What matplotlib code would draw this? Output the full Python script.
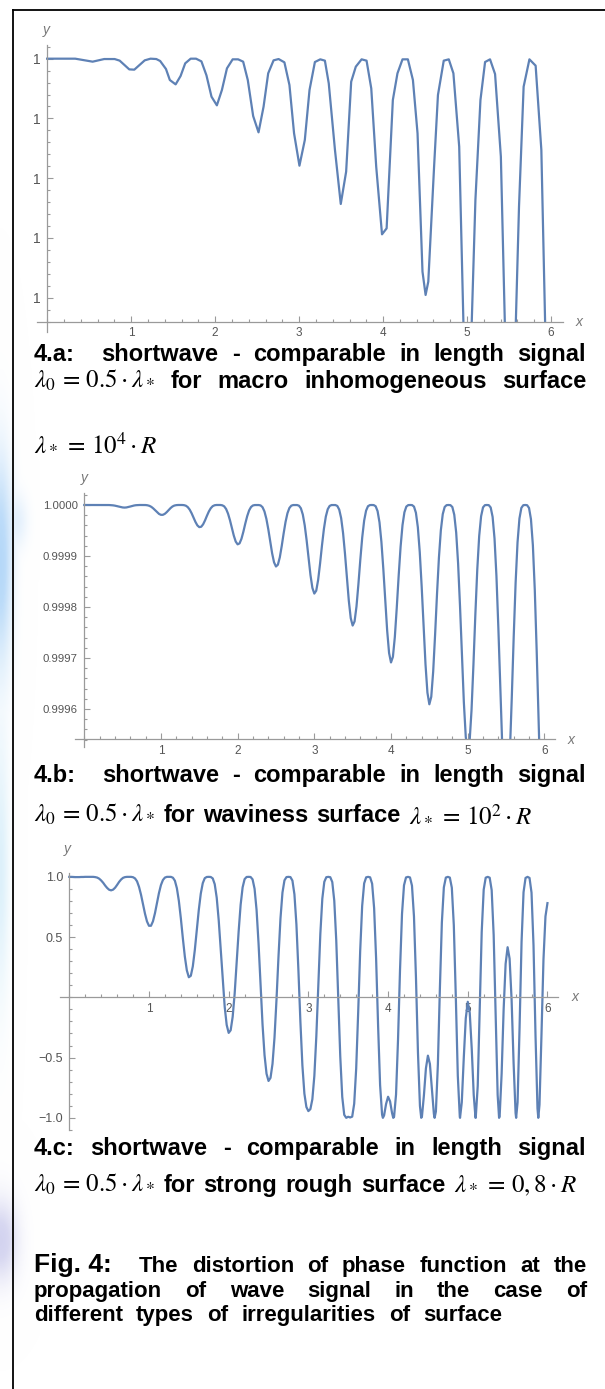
import numpy as np
import matplotlib.pyplot as plt
from matplotlib.lines import Line2D
from matplotlib.patches import Rectangle
from matplotlib.ticker import MultipleLocator

plt.rcParams['font.family'] = ['Liberation Sans', 'DejaVu Sans']
plt.rcParams['mathtext.fontset'] = 'stix'

W, H = 605, 1389
LINE = '#5e81b5'
AXC = '#9a9a9a'
LBL = '#555555'

# ---- panel a: jagged samples, deviation below 1 in tick units ----
xa = [0.000, 0.335, 0.542, 0.680, 0.804, 0.864, 0.978, 1.038, 1.162, 1.231,
      1.300, 1.346, 1.415, 1.461, 1.530, 1.589, 1.644, 1.709, 1.773, 1.837,
      1.897, 1.957, 2.021, 2.081, 2.141, 2.209, 2.274, 2.334, 2.389, 2.453,
      2.517, 2.577, 2.632, 2.696, 2.756, 2.825, 2.885, 2.940, 3.004, 3.068,
      3.124, 3.188, 3.252, 3.307, 3.353, 3.427, 3.496, 3.560, 3.620, 3.675,
      3.744, 3.803, 3.859, 3.918, 3.987, 4.042, 4.116, 4.171, 4.231, 4.295,
      4.355, 4.410, 4.469, 4.506, 4.538, 4.607, 4.653, 4.722, 4.782, 4.837,
      4.906, 5.000, 5.099, 5.159, 5.214, 5.273, 5.333, 5.402, 5.510, 5.618,
      5.673, 5.742, 5.816, 5.884, 6.000]
dev_a = [0, 0, 0.050, 0.006, 0.006, 0.033, 0.179, 0.184, 0.028, 0,
         0.006, 0.039, 0.173, 0.357, 0.430, 0.290, 0.078, 0, 0, 0.045,
         0.279, 0.636, 0.781, 0.524, 0.162, 0.011, 0.011, 0.050, 0.357, 0.960,
         1.233, 0.803, 0.245, 0.028, 0.006, 0.061, 0.441, 1.250, 1.791, 1.361,
         0.524, 0.056, 0.011, 0.033, 0.413, 1.529, 2.432, 1.891, 0.385, 0.134,
         0.011, 0.033, 0.497, 1.808, 2.940, 2.840, 0.692, 0.245, 0.011, 0.011,
         0.357, 1.250, 3.565, 3.955, 3.732, 1.808, 0.608, 0.033, 0.011, 0.245,
         1.473, 7.0, 2.365, 0.692, 0.056, 0.011, 0.257, 1.640, 8.0, 2.477,
         0.469, 0.011, 0.117, 1.529, 9.0]

# ---- panel b: 1 - y, in units of 1e-6, x = 0 .. 6 step 0.025 ----
dev_b = [0.0] * 11 + [
    0.0, 0.0, 0.1, 0.3, 0.7, 1.3, 2.2, 3.2, 4.1, 4.8, 5.1, 4.8, 4.0, 3.0, 1.9, 1.0, 0.4, 0.1, 0.0, 0.0,
    0.0, 0.1, 0.6, 1.7, 3.7, 6.7, 10.4, 14.2, 17.5, 19.3, 19.3, 17.4, 14.1, 10.0, 6.1, 3.0, 1.1, 0.3, 0.0, 0.0,
    0.0, 0.3, 1.4, 4.2, 9.1, 16.2, 24.7, 33.2, 40.0, 43.4, 42.7, 37.9, 30.2, 21.1, 12.7, 6.3, 2.3, 0.5, 0.0, 0.0,
    0.0, 0.6, 2.7, 7.9, 17.0, 29.8, 45.1, 60.0, 71.7, 77.2, 75.3, 66.3, 52.4, 36.4, 21.8, 10.6, 3.9, 0.9, 0.1, 0.0,
    0.1, 0.9, 4.4, 12.7, 27.2, 47.6, 71.5, 94.8, 112.5, 120.6, 117.1, 102.7, 80.6, 55.8, 33.2, 16.1, 5.9, 1.3, 0.1, 0.0,
    0.1, 1.4, 6.5, 18.7, 39.9, 69.5, 104.0, 137.4, 162.6, 173.7, 168.1, 146.9, 115.0, 79.4, 47.1, 22.8, 8.3, 1.8, 0.1, 0.0,
    0.1, 1.9, 9.1, 25.8, 55.0, 95.5, 142.6, 187.9, 221.9, 236.4, 228.3, 199.0, 155.4, 107.1, 63.4, 30.6, 11.1, 2.4, 0.2, 0.0,
    0.2, 2.5, 12.0, 34.0, 72.5, 125.6, 187.3, 246.3, 290.3, 308.8, 297.7, 259.0, 201.9, 138.9, 82.1, 39.6, 14.3, 3.1, 0.2, 0.0,
    0.2, 3.2, 15.3, 43.5, 92.4, 159.9, 238.1, 312.6, 367.9, 390.8, 376.2, 326.8, 254.5, 174.8, 103.2, 49.7, 17.9, 3.9, 0.3, 0.0,
    0.3, 4.0, 19.1, 54.0, 114.7, 198.3, 294.9, 386.8, 454.8, 482.5, 463.9, 402.6, 313.2, 214.9, 126.7, 60.9, 22.0, 4.7, 0.3, 0.0,
    0.3, 4.9, 23.3, 65.7, 139.4, 240.9, 357.9, 468.9, 550.8, 583.8, 560.9, 486.3, 377.9, 259.0, 152.7, 73.3, 26.4, 5.7, 0.4, 0.0,
    0.4, 5.9, 27.8, 78.6, 166.5, 287.5, 426.9, 558.9, 656.0, 694.8]

# ---- panel c: y, x = 0 .. 6 step 0.025, plus the -1 dips ----
yc_grid = [
    1.000, 1.000, 0.999, 0.998, 0.998, 0.998, 0.999, 0.999, 1.000, 1.000, 1.000,
    1.000, 1.000, 0.998, 0.994, 0.985, 0.970, 0.951, 0.928, 0.908, 0.893, 0.888, 0.894, 0.910, 0.933, 0.958, 0.978, 0.992, 0.998, 1.000, 1.000,
    1.000, 0.997, 0.987, 0.963, 0.917, 0.852, 0.773, 0.694, 0.630, 0.594, 0.594, 0.631, 0.698, 0.782, 0.865, 0.932, 0.974, 0.994, 1.000, 1.000,
    1.000, 0.993, 0.968, 0.906, 0.800, 0.655, 0.490, 0.338, 0.224, 0.167, 0.179, 0.257, 0.392, 0.558, 0.725, 0.861, 0.948, 0.989, 0.999, 1.000,
    0.999, 0.987, 0.939, 0.827, 0.640, 0.397, 0.141, -0.078, -0.229, -0.295, -0.273, -0.162, 0.030, 0.282, 0.546, 0.768, 0.913, 0.981, 0.999, 1.000,
    0.999, 0.979, 0.901, 0.725, 0.445, 0.102, -0.227, -0.480, -0.634, -0.694, -0.668, -0.552, -0.334, -0.020, 0.337, 0.655, 0.870, 0.971, 0.998, 1.000,
    0.998, 0.969, 0.855, 0.605, 0.225, -0.203, -0.565, -0.799, -0.910, -0.944, -0.928, -0.846, -0.652, -0.321, 0.110, 0.525, 0.819, 0.959, 0.997, 1.000,
    0.997, 0.957, 0.802, 0.470, -0.007, -0.488, -0.826, -0.975, -1.000, -0.991, -0.997, -0.990, -0.883, -0.591, -0.124, 0.383, 0.759, 0.946, 0.996, 1.000,
    0.996, 0.943, 0.740, 0.321, -0.238, -0.728, -0.974, -0.980, -0.885, -0.825, -0.863, -0.960, -0.993, -0.807, -0.350, 0.228, 0.693, 0.930, 0.995, 1.000,
    0.995, 0.927, 0.672, 0.165, -0.457, -0.901, -0.990, -0.812, -0.589, -0.484, -0.553, -0.761, -0.968, -0.948, -0.557, 0.069, 0.621, 0.913, 0.994, 1.000,
    0.994, 0.910, 0.598, 0.004, -0.650, -0.990, -0.871, -0.502, -0.174, -0.037, -0.129, -0.428, -0.811, -1.000, -0.735, -0.093, 0.543, 0.894, 0.993, 1.000,
    0.993, 0.890, 0.518, -0.157, -0.810, -0.987, -0.633, -0.103, 0.278, 0.416, 0.321, -0.019, -0.543, -0.960, -0.872, -0.252, 0.460, 0.873, 0.991, 1.000,
    0.991, 0.869, 0.433, -0.314, -0.922, -0.892, -0.309, 0.314, 0.672, 0.782]
xc_dips = [3.935, 4.065, 4.416, 4.584, 4.903, 5.097, 5.393, 5.607, 5.885]
yc_dips = [-1.0] * len(xc_dips)

x_major = [1, 2, 3, 4, 5, 6]

# caption words
LAM0 = r"$\lambda_0\, =\, 0.5\cdot\lambda_*$"
cap_a1 = ["4.a:", "shortwave", "-", "comparable", "in", "length", "signal"]
cap_a2 = [LAM0, "for", "macro", "inhomogeneous", "surface"]
cap_a3 = [r"$\lambda_*\, =\, 10^4\cdot R$"]
cap_b1 = ["4.b:", "shortwave", "-", "comparable", "in", "length", "signal"]
cap_b2 = [LAM0, "for", "waviness", "surface", r"$\lambda_*\, =\, 10^2\cdot R$"]
cap_c1 = ["4.c:", "shortwave", "-", "comparable", "in", "length", "signal"]
cap_c2 = [LAM0, "for", "strong", "rough", "surface", r"$\lambda_*\, =\, 0,8\cdot R$"]
fig_1 = ["Fig. 4:", "The", "distortion", "of", "phase", "function", "at", "the"]
fig_2 = ["propagation", "of", "wave", "signal", "in", "the", "case", "of"]
fig_3 = ["different", "types", "of", "irregularities", "of", "surface"]

fig = plt.figure(figsize=(W / 100, H / 100), dpi=100)

# faint watermark glow at the left edge
wm = fig.add_axes([0, 0, 40 / W, 1])
wm.axis('off')
yy, xx = np.mgrid[0:H, 0:40]
rgb = np.ones((H, 40, 3))
alpha = np.zeros((H, 40))
for cx, cy, rx, ry, col, a in [(0, 560, 16, 140, (0.66, 0.82, 0.97), 0.85),
                               (18, 520, 14, 35, (0.76, 0.87, 0.98), 0.5),
                               (0, 870, 12, 170, (0.76, 0.90, 0.97), 0.65),
                               (0, 1240, 24, 55, (0.80, 0.80, 0.93), 0.85)]:
    g = a * np.exp(-((xx - cx) / rx) ** 2 - ((yy - cy) / ry) ** 2)
    for k in range(3):
        rgb[..., k] = rgb[..., k] * (1 - g) + col[k] * g
    alpha = np.maximum(alpha, g)
wm.imshow(np.dstack([rgb, np.clip(alpha * 1.3, 0, 1)]), extent=(0, 40, H, 0), aspect='auto')
wm.set_xlim(0, 40)
wm.set_ylim(H, 0)

fig.add_artist(Line2D([13 / W, 1], [1 - 10 / H, 1 - 10 / H], color='black', lw=1.3))
fig.add_artist(Line2D([13 / W, 13 / W], [0, 1 - 10 / H], color='black', lw=1.3))


def add_ax(left, top, right, bottom):
    return fig.add_axes([left / W, 1 - bottom / H, (right - left) / W, (bottom - top) / H])


def style(ax, xlim, ylim, ybase, ymin_step, ylab_size):
    ax.set_xlim(*xlim)
    ax.set_ylim(*ylim)
    ax.patch.set_alpha(0)
    ax.spines['top'].set_visible(False)
    ax.spines['right'].set_visible(False)
    ax.spines['left'].set_position(('data', 0))
    ax.spines['bottom'].set_position(('data', ybase))
    for s in ('left', 'bottom'):
        ax.spines[s].set_color(AXC)
        ax.spines[s].set_linewidth(0.9)
    ax.set_xticks(x_major, [str(v) for v in x_major])
    ax.xaxis.set_minor_locator(MultipleLocator(0.2))
    ax.yaxis.set_minor_locator(MultipleLocator(ymin_step))
    ax.tick_params(which='both', direction='in', color=AXC, width=0.8, labelcolor=LBL)
    ax.tick_params(which='major', length=4)
    ax.tick_params(which='minor', length=2.3)
    ax.tick_params(axis='x', labelsize=8.5, pad=4)
    ax.tick_params(axis='y', labelsize=ylab_size, pad=4.5)


def clip_line(ax, line, ybase):
    x0, x1 = ax.get_xlim()
    rect = Rectangle((x0, ybase), x1 - x0, 10, transform=ax.transData)
    line.set_clip_path(rect)


def axis_names(xpos, ypos):
    fig.text(xpos[0] / W, 1 - xpos[1] / H, 'x', style='italic', size=10,
             color='#777777', ha='center', va='center')
    fig.text(ypos[0] / W, 1 - ypos[1] / H, 'y', style='italic', size=10,
             color='#777777', ha='center', va='center')


# panel a
axa = add_ax(36.7, 45, 562.6, 331.7)
style(axa, (-0.124, 6.137), (-4.57, 0.229), -4.40, 0.2, 10)
ln, = axa.plot(xa, -np.array(dev_a), color=LINE, lw=1.6)
clip_line(axa, ln, -4.40)
axa.set_yticks([0, -1, -2, -3, -4], ['1'] * 5)
axis_names((579.5, 322), (46, 30))

# panel b
axb = add_ax(75.2, 492.7, 554.8, 746.7)
ybase_b = 1 - 459.5e-6
style(axb, (-0.118, 6.136), (1 - 474e-6, 1 + 24.1e-6), ybase_b, 0.00002, 8.2)
xb = np.linspace(0, 6, len(dev_b))
ln, = axb.plot(xb, 1 - np.array(dev_b) * 1e-6, color=LINE, lw=1.6)
clip_line(axb, ln, ybase_b)
ticks_b = [1.0, 0.9999, 0.9998, 0.9997, 0.9996]
axb.set_yticks(ticks_b, ['%.4f' % v for v in ticks_b])
axis_names((571, 740), (84, 478))

# panel c
axc = add_ax(59.8, 873, 557.5, 1130)
style(axc, (-0.119, 6.126), (-1.101, 1.032), 0, 0.1, 9)
xc = np.concatenate([np.linspace(0, 6, len(yc_grid)), xc_dips])
yc = np.concatenate([yc_grid, yc_dips])
order = np.argsort(xc)
axc.plot(xc[order], yc[order], color=LINE, lw=1.6)
axc.set_yticks([-1.0, -0.5, 0.5, 1.0], ['\u22121.0', '\u22120.5', '0.5', '1.0'])
axis_names((575, 997), (67.5, 849))

# captions
renderer = fig.canvas.get_renderer()
BOLD = dict(size=17, weight='bold', color='black', family='Liberation Sans')
MATH = dict(size=18, color='black')


def put_line(words, y, x0, x1=None, first_size=None, size=None, wide_first=False):
    texts = []
    for i, w in enumerate(words):
        if w.startswith('$'):
            kw = dict(MATH)
        else:
            kw = dict(BOLD)
            if size:
                kw['size'] = size
            if first_size and i == 0:
                kw['size'] = first_size
        texts.append(fig.text(0, 1 - y / H, w, ha='left', va='baseline', **kw))
    widths = [t.get_window_extent(renderer).width for t in texts]
    weights = [1.0] * (len(texts) - 1)
    if wide_first and weights:
        weights[0] = 2.0
    if x1 is None or len(texts) == 1:
        gaps = [6.0 * wt for wt in weights]
    else:
        unit = max((x1 - x0 - sum(widths)) / sum(weights), 4.0)
        gaps = [unit * wt for wt in weights]
    x = x0
    for i, t in enumerate(texts):
        t.set_x(x / W)
        x += widths[i] + (gaps[i] if i < len(gaps) else 0)


put_line(cap_a1, 361, 34, 586, wide_first=True)
put_line(cap_a2, 388, 34, 586)
put_line(cap_a3, 451, 34)
put_line(cap_b1, 782, 34, 586, wide_first=True)
put_line(cap_b2, 822, 34, 532)
put_line(cap_c1, 1155, 34, 586)
put_line(cap_c2, 1192, 34, 577)
put_line(fig_1, 1272, 34, 587, first_size=19, size=16, wide_first=True)
put_line(fig_2, 1297, 34, 587, size=16)
put_line(fig_3, 1321, 34, 502, size=16)

fig.savefig('out.png', dpi=100)
